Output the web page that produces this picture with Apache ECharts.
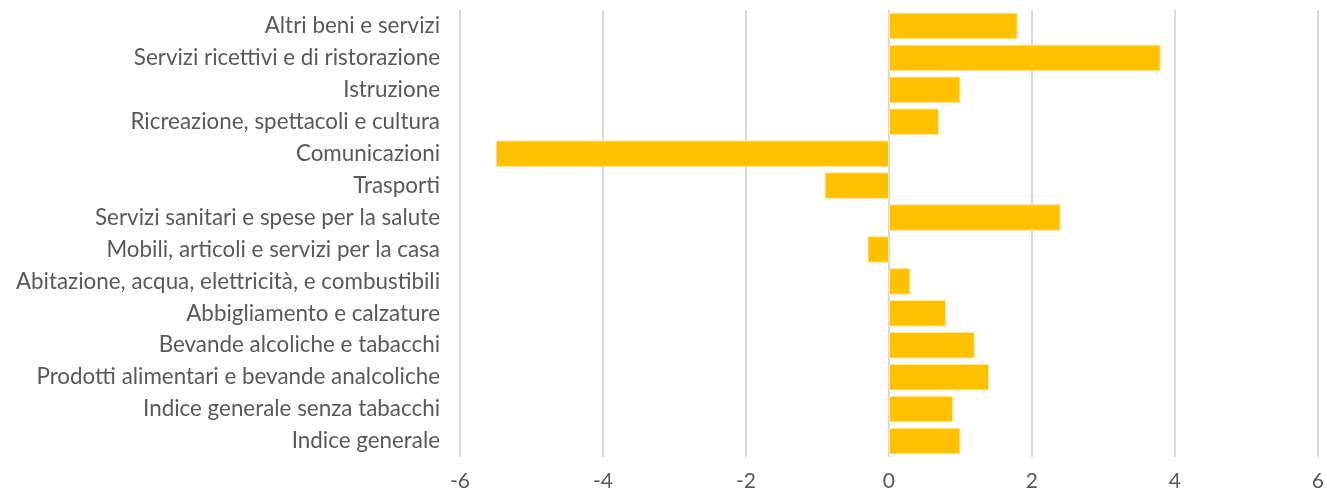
<!DOCTYPE html>
<html>
<head>
<meta charset="utf-8">
<script src="https://cdn.jsdelivr.net/npm/echarts@6/dist/echarts.min.js"></script>
<style>html,body{margin:0;padding:0;background:#fff}#c{width:1327px;height:495px}</style>
</head>
<body>
<div id="c"></div>
<script>
const categories = [
  "Indice generale",
  "Indice generale senza tabacchi",
  "Prodotti alimentari e bevande analcoliche",
  "Bevande alcoliche e tabacchi",
  "Abbigliamento e calzature",
  "Abitazione, acqua, elettricità, e combustibili",
  "Mobili, articoli e servizi per la casa",
  "Servizi sanitari e spese per la salute",
  "Trasporti",
  "Comunicazioni",
  "Ricreazione, spettacoli e cultura",
  "Istruzione",
  "Servizi ricettivi e di ristorazione",
  "Altri beni e servizi"
];
const values = [1.0, 0.9, 1.4, 1.2, 0.8, 0.3, -0.3, 2.4, -0.9, -5.5, 0.7, 1.0, 3.8, 1.8];
const xTicks = { min: -6, max: 6, interval: 2 };

const chart = echarts.init(document.getElementById('c'), null, { renderer: 'canvas' });
const font = 'Lato, "Open Sans", sans-serif';
chart.setOption({
  animation: false,
  grid: { left: 460, right: 7, top: 10, bottom: 38, containLabel: false },
  xAxis: {
    type: 'value', min: xTicks.min, max: xTicks.max, interval: xTicks.interval,
    axisLine: { show: false }, axisTick: { show: false },
    axisLabel: { color: '#595959', fontSize: 21, fontFamily: font, margin: 14 },
    splitLine: { show: true, lineStyle: { color: '#d9d9d9', width: 2 } }
  },
  yAxis: {
    type: 'category', data: categories,
    axisLine: { show: false }, axisTick: { show: false },
    axisLabel: { color: '#595959', fontSize: 22.4, fontFamily: font, margin: 20 },
    splitLine: { show: false }
  },
  series: [{
    type: 'bar', data: values, barCategoryGap: '17%',
    itemStyle: { color: '#FFC000', borderColor: '#ffe8a0', borderWidth: 1 }
  }]
});
</script>
</body>
</html>
